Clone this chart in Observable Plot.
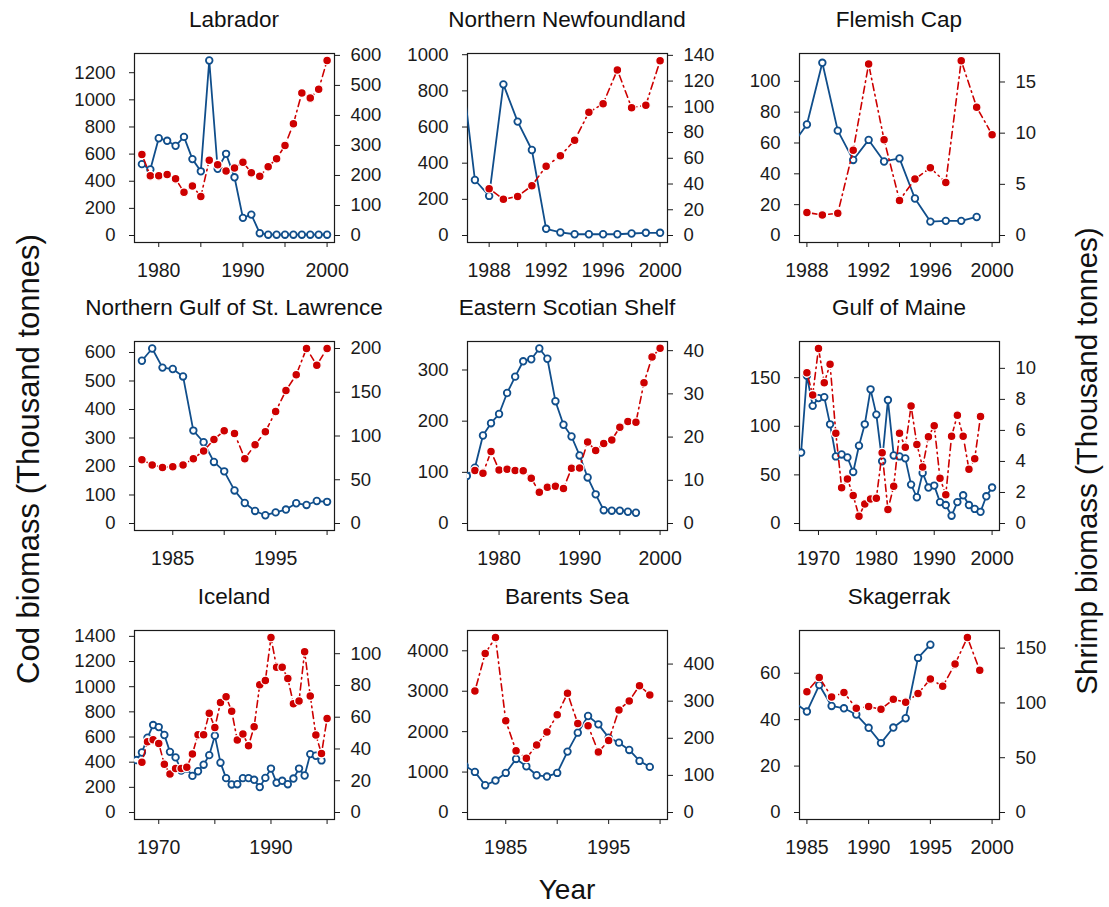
<!DOCTYPE html>
<html><head><meta charset="utf-8">
<script src="https://cdn.jsdelivr.net/npm/d3@7"></script>
<script src="https://cdn.jsdelivr.net/npm/@observablehq/plot@0.6"></script>
<style>
body{margin:0;background:#fff;}
#chart{position:relative;width:1109px;height:907px;background:#fff;font-family:"Liberation Sans",Arial,sans-serif;}
.panel{position:absolute;}
.panel svg{position:absolute;left:0;top:0;}
#labels{position:absolute;left:0;top:0;pointer-events:none;}
</style></head><body><div id="chart"></div>
<script>
// ---------------- data ----------------
const panelNames = ["Labrador","Northern Newfoundland","Flemish Cap","Northern Gulf of St. Lawrence","Eastern Scotian Shelf","Gulf of Maine","Iceland","Barents Sea","Skagerrak"];

// first year of each cod / shrimp series
const codStart    = [1978, 1986, 1987, 1982, 1976, 1967, 1966, 1981, 1984];
const shrimpStart = [1978, 1988, 1988, 1982, 1977, 1968, 1967, 1982, 1985];

// cod biomass (thousand tonnes)
const labradorCod = [526,487,717,698,661,727,563,473,1290,492,602,429,130,154,17,6,6,6,6,6,6,6,6];
const newfoundlandCod = [968,307,219,836,630,473,37,17,7,7,7,7,11,15,15];
const flemishCod = [58,72,112,68,49,62,48,50,24,9,9.5,9.5,12];
const stLawrenceCod = [571,614,547,542,516,326,285,216,183,116,72,44,29,39,49,71,65,79,76];
const scotianCod = [93,109,172,196,214,255,287,317,321,342,322,239,193,170,133,90,57,26,25,25,23,21];
const maineCod = [73,152,121,129,130,102,69,71,68,53,80,102,138,112,64,127,70,69,67,40,27,52,37,39,22,19,8,22,29,19,15,12,28,37];
const icelandCod = [417,477,595,695,679,616,482,438,333,349,291,328,380,456,611,396,273,223,225,273,273,260,202,275,349,236,252,225,270,349,294,464,451,414];
const barentsCod = [1160,1004,675,790,979,1325,1144,922,889,979,1506,1975,2387,2181,1852,1728,1547,1276,1128];
const skagerrakCod = [47.3,43.5,54.9,45.9,44.9,42.2,36.5,29.9,36.6,40.6,66.6,72.3];

// shrimp biomass (thousand tonnes)
const labradorShrimp = [270,199,199,203,189,144,165,130,251,236,215,225,244,209,197,229,256,300,372,475,458,487,583];
const newfoundlandShrimp = [36.4,28.1,30.4,38.7,53.9,61.9,74.0,95.7,102.4,128.7,99.3,101.3,135.9];
const flemishShrimp = [2.24,2.01,2.17,8.33,16.75,9.36,3.43,5.51,6.61,5.18,17.08,12.54,9.85];
const stLawrenceShrimp = [73,67,64,65,67,74,83,96,106,103,74,90,105,128,152,170,200,181,200];
const scotianShrimp = [12.25,11.64,16.65,12.4,12.56,12.25,12.18,10.48,7.24,8.4,8.63,8.09,12.79,12.87,18.88,16.88,18.5,19.34,22.27,23.58,23.43,32.6,38.54,40.54];
const maineShrimp = [9.72,8.29,11.28,9.08,10.26,5.82,2.31,2.87,1.80,0.47,1.26,1.58,1.63,4.56,0.90,2.40,5.82,4.92,7.58,5.10,3.64,5.59,6.30,2.91,1.86,5.63,6.98,5.63,3.49,4.18,6.90];
const icelandShrimp = [31.7,44.6,45.8,43.5,30.4,24.2,27.7,27.7,28.5,36.9,49.0,49.0,62.5,53.5,69.2,72.9,63.8,45.6,49.4,42.1,54.0,80.4,83.1,110.2,91.5,91.5,84.4,68.5,70.2,101.3,73.3,48.8,37.1,59.2];
const barentsShrimp = [327.5,428.6,471.6,247,166.4,145.9,181.7,216.6,263.1,321.3,239.8,233.6,162.9,194.2,276.5,300.7,341.8,316.8];
const skagerrakShrimp = [110.3,123.3,105.5,109.4,95.2,96.7,94.2,103.3,100.6,108.5,121.8,115.2,135.5,159.7,129.7];

// axis limits (year range, y maxima as in the original ylim)
const yearRange   = [[1978,2000],[1987,2000],[1988,2000],[1982,2000],[1977,2000],[1968,2000],[1967,2000],[1982,2000],[1985,2000]];
const codLimit    = [1290, 968, 113.5, 614, 342, 180, 1391, 4329, 75.4];
const shrimpLimit = [583, 136, 17.1, 200, 40.5, 11.28, 110.2, 471.6, 159.7];

// ticks
const codTicks = [[0,200,400,600,800,1000,1200],[0,200,400,600,800,1000],[0,20,40,60,80,100],[0,100,200,300,400,500,600],[0,100,200,300],[0,50,100,150],[0,200,400,600,800,1000,1200,1400],[0,1000,2000,3000,4000],[0,20,40,60]];
const shrimpTicks = [[0,100,200,300,400,500,600],[0,20,40,60,80,100,120,140],[0,5,10,15],[0,50,100,150,200],[0,10,20,30,40],[0,2,4,6,8,10],[0,20,40,60,80,100],[0,100,200,300,400],[0,50,100,150]];
const yearTicks = [[1980,1985,1990,1995,2000],[1988,1990,1992,1994,1996,1998,2000],[1988,1990,1992,1994,1996,1998,2000],[1985,1990,1995,2000],[1980,1985,1990,1995,2000],[1970,1980,1990,2000],[1970,1980,1990,2000],[1985,1990,1995,2000],[1985,1990,1995,2000]];
const yearLabels = [[1980,1990,2000],[1988,1992,1996,2000],[1988,1992,1996,2000],[1985,1995],[1980,1990,2000],[1970,1980,1990,2000],[1970,1990],[1985,1995],[1985,1990,1995,2000]];

const codSeries = [labradorCod,newfoundlandCod,flemishCod,stLawrenceCod,scotianCod,maineCod,icelandCod,barentsCod,skagerrakCod];
const shrimpSeries = [labradorShrimp,newfoundlandShrimp,flemishShrimp,stLawrenceShrimp,scotianShrimp,maineShrimp,icelandShrimp,barentsShrimp,skagerrakShrimp];

// ---------------- drawing ----------------
const blue = "#104E8B", red = "#CD0000", ink = "#1a1a1a";
const fontFamily = '"Liberation Sans", Arial, sans-serif';
const W = 333, H = 289, mL = 70, mR = 63, mT = 42, mB = 58;
const colLeft = [64, 397, 729];
const rowTop = [11, 299, 588];
const chart = document.getElementById("chart");

function series(start, values) { return values.map((v, i) => ({year: start + i, value: v})); }

panelNames.forEach((name, k) => {
  const col = k % 3, row = Math.floor(k / 3);
  const div = document.createElement("div");
  div.className = "panel";
  Object.assign(div.style, {left: colLeft[col] + "px", top: rowTop[row] + "px", width: W + "px", height: H + "px"});
  chart.appendChild(div);

  const [y0, y1] = yearRange[k];
  const pad = 0.04 * (y1 - y0);
  const xDomain = [y0 - pad, y1 + pad];
  const cM = codLimit[k], sM = shrimpLimit[k];
  const cod = series(codStart[k], codSeries[k]);
  const shrimp = series(shrimpStart[k], shrimpSeries[k]);
  const common = {width: W, height: H, marginLeft: mL, marginRight: mR, marginTop: mT, marginBottom: mB,
    style: {fontFamily, fontSize: "18px", color: ink, background: "transparent", overflow: "visible"}};

  const codPlot = Plot.plot({
    ...common,
    x: {domain: xDomain},
    y: {domain: [-0.04 * cM, 1.04 * cM]},
    marks: [
      Plot.frame({stroke: ink, strokeWidth: 1.2}),
      Plot.axisY({anchor: "left", ticks: codTicks[k], tickSize: 5, tickPadding: 14, tickFormat: d => String(d), label: null, fontSize: 18.5}),
      Plot.axisX({anchor: "bottom", ticks: yearTicks[k], tickSize: 5, tickPadding: 16, tickFormat: d => yearLabels[k].includes(d) ? String(d) : "", label: null, fontSize: 19.5}),
      Plot.line(cod, {x: "year", y: "value", stroke: blue, strokeWidth: 1.8, clip: true}),
      Plot.dot(cod, {x: "year", y: "value", r: 3.3, stroke: blue, strokeWidth: 1.8, fill: "white", clip: true})
    ]
  });
  const shrimpPlot = Plot.plot({
    ...common,
    x: {domain: xDomain, axis: null},
    y: {domain: [-0.04 * sM, 1.04 * sM]},
    marks: [
      Plot.axisY({anchor: "right", ticks: shrimpTicks[k], tickSize: 5, tickPadding: 11, tickFormat: d => String(d), label: null, fontSize: 18.5}),
      Plot.line(shrimp, {x: "year", y: "value", stroke: red, strokeWidth: 1.6, strokeDasharray: "1.5,4,7,4", clip: true}),
      Plot.dot(shrimp, {x: "year", y: "value", r: 4.4, fill: red, stroke: "white", strokeWidth: 1.3, clip: true})
    ]
  });
  div.appendChild(codPlot);
  div.appendChild(shrimpPlot);
});

// titles and axis titles
const svgNS = "http://www.w3.org/2000/svg";
const lab = document.createElementNS(svgNS, "svg");
lab.setAttribute("id", "labels");
lab.setAttribute("width", 1109);
lab.setAttribute("height", 907);
lab.style.fontFamily = fontFamily;
function addText(str, x, y, size, rotate) {
  const t = document.createElementNS(svgNS, "text");
  t.textContent = str;
  t.setAttribute("text-anchor", "middle");
  t.setAttribute("font-size", size);
  t.setAttribute("fill", "#111");
  if (rotate) t.setAttribute("transform", `translate(${x},${y}) rotate(-90)`);
  else { t.setAttribute("x", x); t.setAttribute("y", y); }
  lab.appendChild(t);
}
panelNames.forEach((name, k) => {
  const col = k % 3, row = Math.floor(k / 3);
  addText(name, colLeft[col] + mL + (W - mL - mR) / 2, rowTop[row] + mT - 26, 22.5, false);
});
addText("Year", 567, 899, 28, false);
addText("Cod biomass (Thousand tonnes)", 39, 459, 31, true);
addText("Shrimp biomass (Thousand tonnes)", 1097, 461, 29.5, true);
chart.appendChild(lab);
</script></body></html>
